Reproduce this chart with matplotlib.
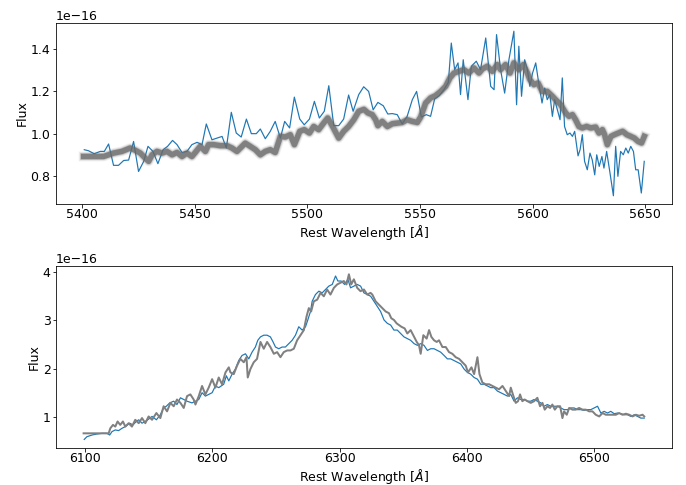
import numpy as np
import matplotlib
matplotlib.use('Agg')
from matplotlib import pyplot as plt

# top panel: observed spectrum (blue), flux in units of 1e-16
top_wave = [5400.9, 5402.8, 5405.3, 5408.0, 5409.8, 5411.7, 5413.9, 5416.1, 5418.4, 5420.6,
            5422.8, 5425.0, 5427.3, 5429.2, 5431.4, 5433.6, 5435.9, 5437.9, 5440.1, 5442.1,
            5444.3, 5446.5, 5448.7, 5451.0, 5453.2, 5455.1, 5457.6, 5459.9, 5462.1, 5464.0,
            5466.2, 5468.4, 5470.6, 5472.9, 5475.1, 5477.3, 5479.1, 5481.3, 5483.5, 5485.7,
            5488.0, 5489.9, 5492.1, 5494.2, 5496.6, 5498.6, 5500.9, 5503.1, 5505.3, 5507.5,
            5509.5, 5511.7, 5513.9, 5516.1, 5518.3, 5520.3, 5522.8, 5525.0, 5527.2, 5529.2,
            5531.3, 5533.7, 5535.7, 5537.7, 5539.9, 5542.1, 5544.3, 5546.6, 5548.5, 5550.6,
            5552.8, 5554.7, 5556.5, 5558.6, 5560.6, 5562.6, 5563.9, 5565.4, 5566.9, 5568.0,
            5569.2, 5571.3, 5572.8, 5575.0, 5576.9, 5579.2, 5581.4, 5582.9, 5584.0, 5585.8,
            5587.6, 5589.5, 5591.7, 5592.9, 5593.9, 5595.1, 5596.5, 5597.7, 5598.8, 5600.0,
            5601.4, 5602.5, 5604.2, 5605.4, 5606.5, 5607.7, 5608.8, 5609.8, 5611.0, 5612.2,
            5613.2, 5614.2, 5615.4, 5616.6, 5617.7, 5618.7, 5620.2, 5621.1, 5622.1, 5623.1,
            5624.3, 5625.5, 5626.5, 5627.6, 5628.5, 5629.6, 5630.8, 5631.7, 5632.9, 5634.4,
            5635.9, 5636.9, 5637.9, 5639.1, 5640.3, 5641.4, 5642.5, 5643.6, 5644.8, 5645.8,
            5646.9, 5648.3, 5649.6]
top_flux = [0.924, 0.919, 0.905, 0.916, 0.916, 0.951, 0.850, 0.850, 0.873, 0.875,
            0.963, 0.821, 0.869, 0.940, 0.916, 0.858, 0.924, 0.940, 0.968, 0.948,
            0.911, 0.916, 0.948, 0.959, 0.948, 1.046, 0.971, 0.979, 0.987, 0.932,
            1.101, 1.003, 0.984, 1.069, 1.000, 1.000, 1.022, 0.976, 1.011, 1.058,
            0.979, 1.058, 1.027, 1.173, 1.069, 1.042, 1.069, 1.153, 1.074, 1.106,
            1.227, 1.038, 1.038, 1.069, 1.183, 1.106, 1.185, 1.222, 1.200, 1.113,
            1.148, 1.132, 1.093, 1.095, 1.090, 1.046, 1.082, 1.161, 1.200, 1.079,
            1.090, 1.082, 1.164, 1.180, 1.208, 1.243, 1.429, 1.303, 1.335, 1.185,
            1.350, 1.161, 1.319, 1.343, 1.303, 1.453, 1.224, 1.208, 1.469, 1.303,
            1.192, 1.350, 1.485, 1.137, 1.414, 1.177, 1.350, 1.303, 1.224, 1.287,
            1.335, 1.256, 1.145, 1.216, 1.161, 1.185, 1.082, 1.161, 1.113, 1.066,
            1.264, 1.034, 0.995, 1.003, 0.987, 1.011, 0.895, 0.924, 0.995, 0.869,
            0.829, 0.908, 0.876, 0.805, 0.900, 0.845, 0.892, 0.837, 0.916, 0.813,
            0.706, 0.940, 0.798, 0.916, 0.900, 0.932, 0.908, 0.940, 0.916, 0.829,
            0.829, 0.719, 0.869]

# top panel: model (grey band)
top_model_wave = [5400.6, 5405.0, 5409.5, 5413.9, 5417.6, 5421.3, 5423.6, 5425.8, 5428.0, 5429.5,
                  5431.0, 5433.2, 5435.4, 5437.6, 5439.9, 5442.1, 5444.3, 5446.5, 5448.7, 5450.2,
                  5452.4, 5454.7, 5456.1, 5458.4, 5461.3, 5464.3, 5466.5, 5468.7, 5470.2, 5472.4,
                  5474.6, 5476.9, 5479.1, 5481.3, 5483.5, 5485.7, 5488.0, 5490.2, 5492.4, 5494.2,
                  5496.6, 5498.6, 5500.9, 5502.8, 5505.0, 5507.2, 5509.0, 5511.2, 5513.9, 5516.1,
                  5518.3, 5520.6, 5522.8, 5525.1, 5526.9, 5528.8, 5530.3, 5531.3, 5533.2, 5535.5,
                  5537.7, 5539.9, 5542.1, 5544.3, 5546.6, 5548.8, 5550.3, 5552.5, 5554.7, 5556.9,
                  5559.2, 5561.4, 5563.3, 5565.1, 5567.3, 5569.5, 5571.7, 5574.0, 5576.2, 5577.7,
                  5579.9, 5582.1, 5584.3, 5585.8, 5588.0, 5590.0, 5591.7, 5593.9, 5595.9, 5597.7,
                  5598.8, 5600.6, 5602.4, 5604.3, 5606.5, 5608.8, 5610.2, 5612.5, 5614.7, 5616.2,
                  5617.7, 5619.1, 5620.6, 5622.1, 5624.0, 5625.8, 5628.0, 5629.5, 5631.0, 5632.0,
                  5633.2, 5634.8, 5636.3, 5638.1, 5640.0, 5641.9, 5643.6, 5645.2, 5646.9, 5648.4,
                  5649.6]
top_model_flux = [0.892, 0.892, 0.892, 0.908, 0.916, 0.932, 0.921, 0.908, 0.884, 0.869,
                  0.900, 0.916, 0.908, 0.916, 0.900, 0.911, 0.892, 0.908, 0.892, 0.911,
                  0.940, 0.916, 0.948, 0.948, 0.943, 0.943, 0.932, 0.916, 0.932, 0.955,
                  0.940, 0.924, 0.900, 0.916, 0.924, 0.911, 0.987, 0.984, 0.995, 0.948,
                  1.011, 1.019, 1.003, 1.034, 1.019, 1.050, 1.074, 1.034, 0.979, 1.011,
                  1.034, 1.066, 1.106, 1.115, 1.098, 1.090, 1.066, 1.038, 1.058, 1.034,
                  1.047, 1.050, 1.053, 1.066, 1.058, 1.053, 1.079, 1.145, 1.169, 1.180,
                  1.200, 1.224, 1.264, 1.287, 1.295, 1.303, 1.287, 1.311, 1.287, 1.306,
                  1.319, 1.295, 1.327, 1.303, 1.327, 1.287, 1.335, 1.303, 1.327, 1.287,
                  1.256, 1.232, 1.240, 1.200, 1.200, 1.177, 1.161, 1.137, 1.098, 1.082,
                  1.090, 1.066, 1.034, 1.027, 1.034, 1.027, 1.031, 1.003, 1.019, 0.995,
                  0.948, 0.987, 0.995, 1.003, 1.011, 0.995, 0.987, 0.979, 0.963, 0.956,
                  0.987]

# bottom panel: observed spectrum (blue)
bot_wave = [6099.2, 6101.3, 6105.3, 6109.2, 6113.1, 6117.1, 6119.2, 6121.0, 6123.6, 6126.2,
            6128.9, 6131.5, 6134.9, 6137.5, 6140.1, 6142.0, 6144.6, 6147.2, 6149.8, 6152.5,
            6155.9, 6159.0, 6161.6, 6163.7, 6166.4, 6169.5, 6172.1, 6174.8, 6177.4, 6180.0,
            6183.9, 6186.6, 6189.2, 6191.8, 6194.4, 6197.0, 6199.7, 6202.3, 6204.9, 6208.8,
            6210.9, 6212.8, 6215.4, 6218.0, 6220.6, 6223.2, 6225.9, 6228.5, 6231.1, 6233.7,
            6235.6, 6237.7, 6240.3, 6242.9, 6245.5, 6247.6, 6249.5, 6252.1, 6254.7, 6257.3,
            6260.0, 6262.6, 6265.2, 6267.8, 6270.5, 6273.1, 6274.9, 6277.0, 6278.3, 6280.9,
            6283.6, 6286.2, 6288.8, 6291.4, 6294.1, 6296.7, 6298.5, 6301.1, 6303.8, 6306.4,
            6308.5, 6311.1, 6313.7, 6316.4, 6319.0, 6321.6, 6324.3, 6326.9, 6329.5, 6332.1,
            6334.8, 6337.4, 6340.0, 6342.6, 6345.2, 6347.9, 6350.5, 6353.1, 6355.7, 6358.4,
            6361.0, 6363.6, 6366.2, 6368.9, 6371.5, 6374.1, 6376.7, 6379.3, 6382.0, 6384.6,
            6387.2, 6389.8, 6392.5, 6395.1, 6397.7, 6400.3, 6402.9, 6405.6, 6408.2, 6410.8,
            6413.4, 6416.1, 6418.7, 6421.3, 6423.9, 6426.6, 6429.2, 6431.8, 6434.4, 6437.0,
            6439.6, 6442.2, 6444.9, 6447.5, 6450.1, 6452.7, 6455.3, 6458.0, 6460.6, 6463.2,
            6465.8, 6468.5, 6471.1, 6473.7, 6476.3, 6479.0, 6481.6, 6484.2, 6486.8, 6489.4,
            6492.1, 6494.7, 6497.3, 6499.9, 6502.6, 6505.2, 6507.8, 6510.4, 6513.0, 6515.7,
            6518.3, 6520.9, 6523.5, 6526.2, 6528.8, 6531.4, 6534.0, 6536.6, 6539.3]
bot_flux = [0.543, 0.599, 0.634, 0.655, 0.669, 0.669, 0.634, 0.704, 0.739, 0.725,
            0.773, 0.808, 0.878, 0.843, 0.913, 0.948, 0.878, 0.913, 0.962, 1.017,
            0.948, 1.052, 1.192, 1.227, 1.296, 1.331, 1.262, 1.401, 1.366, 1.331,
            1.296, 1.331, 1.366, 1.506, 1.436, 1.471, 1.506, 1.645, 1.610, 1.680,
            1.854, 1.750, 1.889, 1.994, 2.168, 2.273, 2.308, 2.203, 2.342, 2.447,
            2.586, 2.656, 2.691, 2.691, 2.656, 2.552, 2.447, 2.412, 2.447, 2.447,
            2.517, 2.586, 2.691, 2.865, 2.796, 2.865, 3.005, 3.179, 3.388, 3.528,
            3.598, 3.563, 3.632, 3.702, 3.737, 3.911, 3.807, 3.807, 3.737, 3.842,
            3.667, 3.702, 3.737, 3.702, 3.563, 3.528, 3.493, 3.388, 3.284, 3.179,
            3.005, 2.935, 2.900, 2.796, 2.796, 2.726, 2.656, 2.621, 2.586, 2.517,
            2.482, 2.517, 2.482, 2.377, 2.412, 2.412, 2.377, 2.342, 2.273, 2.203,
            2.203, 2.168, 2.133, 2.098, 1.994, 1.924, 1.889, 1.819, 1.785, 1.680,
            1.680, 1.645, 1.610, 1.610, 1.540, 1.506, 1.471, 1.436, 1.471, 1.331,
            1.401, 1.366, 1.366, 1.331, 1.331, 1.366, 1.331, 1.296, 1.227, 1.262,
            1.227, 1.227, 1.227, 1.192, 1.157, 1.157, 1.192, 1.192, 1.157, 1.157,
            1.143, 1.157, 1.157, 1.192, 1.227, 1.087, 1.122, 1.087, 1.122, 1.073,
            1.087, 1.073, 1.052, 1.052, 1.017, 1.052, 1.017, 0.983, 0.983]

# bottom panel: model (grey)
bot_model_wave = [6098.7, 6106.6, 6118.4, 6119.7, 6121.8, 6123.6, 6125.4, 6127.5, 6129.6, 6131.5,
                  6134.1, 6136.7, 6139.3, 6142.0, 6144.6, 6147.2, 6149.8, 6152.5, 6155.9, 6159.0,
                  6161.6, 6164.3, 6166.9, 6169.5, 6172.1, 6174.8, 6177.4, 6180.0, 6182.6, 6185.2,
                  6186.6, 6189.2, 6191.8, 6194.4, 6197.0, 6199.7, 6202.3, 6204.9, 6207.5, 6210.2,
                  6212.8, 6214.1, 6216.7, 6219.3, 6221.9, 6224.6, 6226.7, 6227.7, 6229.8, 6232.4,
                  6235.0, 6237.7, 6240.3, 6242.9, 6245.5, 6248.2, 6250.8, 6253.4, 6256.0, 6258.7,
                  6261.3, 6263.9, 6266.5, 6269.1, 6271.8, 6273.9, 6275.7, 6277.5, 6279.6, 6282.3,
                  6284.9, 6287.5, 6290.1, 6292.7, 6295.4, 6298.0, 6300.6, 6303.2, 6305.3, 6307.2,
                  6309.0, 6311.1, 6313.7, 6316.3, 6319.0, 6321.6, 6324.2, 6325.6, 6328.2, 6330.8,
                  6333.4, 6336.1, 6338.7, 6340.5, 6342.6, 6344.7, 6346.6, 6348.4, 6351.0, 6353.1,
                  6355.7, 6358.4, 6360.5, 6362.3, 6363.6, 6365.7, 6368.3, 6370.2, 6372.0, 6374.1,
                  6376.2, 6378.0, 6380.7, 6383.3, 6385.9, 6388.5, 6391.1, 6393.8, 6396.4, 6399.0,
                  6400.8, 6403.5, 6405.6, 6408.2, 6409.8, 6412.1, 6414.7, 6417.4, 6420.0, 6422.6,
                  6425.2, 6427.9, 6430.5, 6433.1, 6434.4, 6436.5, 6438.3, 6440.1, 6441.7, 6443.5,
                  6445.4, 6447.5, 6450.1, 6452.7, 6455.3, 6457.4, 6459.3, 6461.1, 6463.2, 6465.3,
                  6467.1, 6469.0, 6471.1, 6473.2, 6475.0, 6476.3, 6478.4, 6480.3, 6482.9, 6485.5,
                  6488.1, 6490.8, 6493.4, 6496.0, 6498.6, 6501.2, 6503.9, 6506.5, 6509.1, 6511.7,
                  6514.4, 6517.0, 6519.6, 6522.2, 6524.9, 6527.5, 6530.1, 6532.7, 6535.3, 6538.0,
                  6539.3]
bot_model_flux = [0.669, 0.669, 0.669, 0.773, 0.843, 0.808, 0.913, 0.843, 0.913, 0.808,
                  0.878, 0.808, 0.948, 0.878, 0.983, 0.878, 1.017, 0.948, 1.087, 0.983,
                  1.227, 1.122, 1.296, 1.227, 1.366, 1.296, 1.192, 1.436, 1.471, 1.366,
                  1.262, 1.436, 1.645, 1.471, 1.610, 1.785, 1.610, 1.819, 1.680, 1.924,
                  2.029, 1.924, 1.889, 2.063, 2.203, 2.133, 2.238, 1.819, 1.994, 2.133,
                  2.203, 2.552, 2.412, 2.552, 2.447, 2.308, 2.342, 2.238, 2.342, 2.377,
                  2.377, 2.412, 2.586, 2.691, 2.796, 3.075, 3.249, 3.179, 3.388, 3.423,
                  3.563, 3.493, 3.632, 3.528, 3.667, 3.737, 3.772, 3.807, 3.737, 3.946,
                  3.737, 3.842, 3.667, 3.598, 3.632, 3.528, 3.563, 3.528, 3.388, 3.319,
                  3.249, 3.179, 3.144, 3.040, 3.005, 2.935, 2.900, 2.865, 2.831, 2.726,
                  2.796, 2.656, 2.552, 2.482, 2.308, 2.691, 2.621, 2.796, 2.656, 2.586,
                  2.552, 2.586, 2.447, 2.447, 2.342, 2.308, 2.238, 2.203, 2.133, 2.063,
                  1.924, 2.029, 1.889, 2.238, 1.889, 1.715, 1.680, 1.680, 1.645, 1.610,
                  1.576, 1.645, 1.540, 1.436, 1.610, 1.436, 1.296, 1.331, 1.471, 1.331,
                  1.366, 1.331, 1.296, 1.331, 1.401, 1.227, 1.296, 1.157, 1.227, 1.192,
                  1.262, 1.157, 1.227, 1.227, 0.983, 1.122, 1.052, 1.192, 1.157, 1.157,
                  1.192, 1.157, 1.157, 1.122, 1.122, 1.052, 1.017, 1.087, 1.052, 1.052,
                  1.052, 1.052, 1.087, 1.052, 1.073, 1.052, 1.017, 1.052, 1.031, 1.052,
                  1.017]

scale = 1e-16

plt.rcParams['font.size'] = 12.5
plt.rcParams['xtick.major.pad'] = 1.0
plt.rcParams['ytick.major.pad'] = 1.5
plt.rcParams['axes.labelpad'] = 2
fig = plt.figure(figsize=(686 / 72, 485 / 72), dpi=72)
ax1 = fig.add_axes([0.081, 0.5794, 0.899, 0.3732])
ax2 = fig.add_axes([0.081, 0.0769, 0.899, 0.3746])

# top
ax1.plot(top_wave, np.array(top_flux) * scale, color='tab:blue', lw=1.2)
model = np.array(top_model_flux) * scale
for lw, a in [(10, 0.07), (8.5, 0.12), (7, 0.25), (5.5, 0.75)]:
    ax1.plot(top_model_wave, model, color='dimgray', lw=lw, alpha=a, solid_joinstyle='round')
ax1.set_xlabel(r'Rest Wavelength [$\AA$]')
ax1.set_ylabel('Flux')

# bottom
ax2.plot(bot_wave, np.array(bot_flux) * scale, color='tab:blue', lw=1.2)
ax2.plot(bot_model_wave, np.array(bot_model_flux) * scale, color='gray', lw=2)
ax2.set_xlabel(r'Rest Wavelength [$\AA$]')
ax2.set_ylabel('Flux')

plt.savefig('out.png', dpi=72)
